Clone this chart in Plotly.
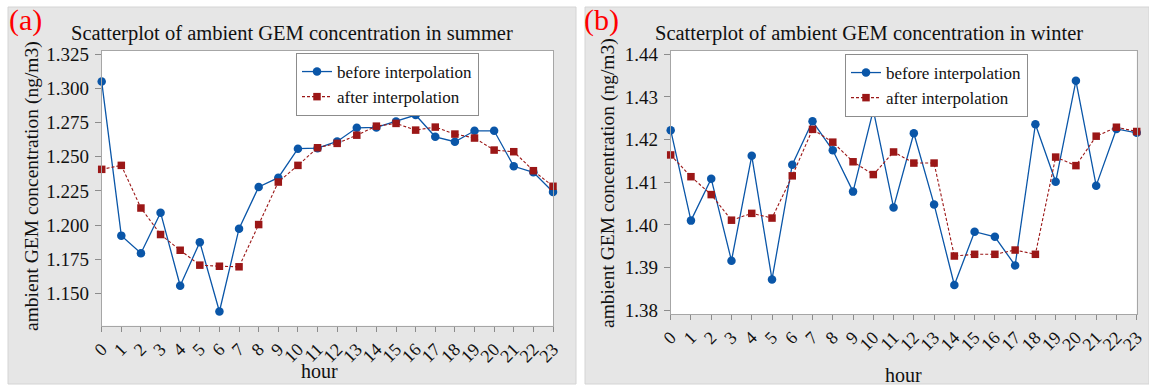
import plotly.graph_objects as go

W, H = 1149, 386

hours = list(range(24))
hour_labels = [str(h) for h in hours]

summer_before = [1.305, 1.1923, 1.1794, 1.2091, 1.1556, 1.1875, 1.1368, 1.1974,
                 1.2279, 1.2347, 1.2559, 1.2563, 1.2612, 1.2712, 1.2715, 1.2758,
                 1.2805, 1.2646, 1.2610, 1.2690, 1.2690, 1.2430, 1.2386, 1.2242]
summer_after = [1.2408, 1.2437, 1.2125, 1.1931, 1.1816, 1.1707, 1.1699, 1.1695,
                1.2004, 1.2315, 1.2437, 1.2566, 1.2598, 1.2658, 1.2724, 1.2744,
                1.2695, 1.2717, 1.2666, 1.2637, 1.2549, 1.2537, 1.2398, 1.2284]

winter_before = [1.4222, 1.4010, 1.4108, 1.3916, 1.4162, 1.3872, 1.4141, 1.4243,
                 1.4175, 1.4078, 1.4269, 1.4041, 1.4215, 1.4048, 1.3859, 1.3984,
                 1.3972, 1.3905, 1.4236, 1.4101, 1.4338, 1.4092, 1.4225, 1.4216]
winter_after = [1.4164, 1.4113, 1.4071, 1.4011, 1.4027, 1.4016, 1.4115, 1.4224,
                1.4194, 1.4148, 1.4118, 1.4171, 1.4145, 1.4145, 1.3927, 1.3931,
                1.3931, 1.3941, 1.3931, 1.4159, 1.4139, 1.4208, 1.4229, 1.4219]

summer_ticks = [1.150, 1.175, 1.200, 1.225, 1.250, 1.275, 1.300, 1.325]
winter_ticks = [1.38, 1.39, 1.40, 1.41, 1.42, 1.43, 1.44]

series_names = ["before interpolation", "after interpolation"]
panel_titles = ["Scatterplot of ambient GEM concentration in summer",
                "Scatterplot of ambient GEM concentration in winter"]
panel_tags = ["(a)", "(b)"]
y_title = "ambient GEM concentration (ng/m3)"
x_title = "hour"

BLUE = "#0a56a8"
RED = "#9b1717"
FONT = "Liberation Serif, Times New Roman, serif"
PANEL_BG = "#e6e6e6"


def px(x):
    return x / W


def py(y):
    return 1 - y / H


fig = go.Figure()

panels = [
    dict(before=summer_before, after=summer_after, xa="x", ya="y", legend="legend"),
    dict(before=winter_before, after=winter_after, xa="x2", ya="y2", legend="legend2"),
]

for p in panels:
    fig.add_trace(go.Scatter(
        x=hours, y=p["before"], name=series_names[0], mode="lines+markers",
        xaxis=p["xa"], yaxis=p["ya"], legend=p["legend"],
        line=dict(color=BLUE, width=1.3),
        marker=dict(symbol="circle", size=8.5, color=BLUE),
        cliponaxis=False,
    ))
    fig.add_trace(go.Scatter(
        x=hours, y=p["after"], name=series_names[1], mode="lines+markers",
        xaxis=p["xa"], yaxis=p["ya"], legend=p["legend"],
        line=dict(color=RED, width=1.1, dash="3px,2px"),
        marker=dict(symbol="square", size=7.5, color=RED),
        cliponaxis=False,
    ))

common_x = dict(
    range=[0, 23], tickmode="array", tickvals=hours, ticktext=hour_labels,
    tickangle=-45, ticks="outside", ticklen=5, tickcolor="#8c8c8c",
    showline=True, linecolor="#a6a6a6", linewidth=1, mirror=True,
    showgrid=False, zeroline=False, automargin=False,
    tickfont=dict(family=FONT, size=18, color="#111111"),
)
common_y = dict(
    ticks="outside", ticklen=6, tickcolor="#8c8c8c",
    showline=True, linecolor="#a6a6a6", linewidth=1, mirror=True,
    showgrid=False, zeroline=False, ticklabelstandoff=2, automargin=False,
    tickfont=dict(family=FONT, size=19, color="#111111"),
)

legend_style = dict(
    xanchor="left", yanchor="top", bgcolor="white",
    bordercolor="#8c8c8c", borderwidth=1,
    font=dict(family=FONT, size=17, color="#111111"),
    tracegroupgap=0, itemwidth=30,
)

plot_boxes = [(101.7, 553, 50.7, 325.7), (670.7, 1136.7, 50.7, 314)]

fig.update_layout(
    width=W, height=H,
    margin=dict(l=0, r=0, t=0, b=0, autoexpand=False),
    paper_bgcolor="white", plot_bgcolor="rgba(0,0,0,0)",
    showlegend=True,
    xaxis=dict(domain=[px(plot_boxes[0][0]), px(plot_boxes[0][1])], anchor="y", **common_x),
    yaxis=dict(domain=[py(plot_boxes[0][3]), py(plot_boxes[0][2])], anchor="x",
               range=[1.1264, 1.3276], tickvals=summer_ticks,
               tickformat=".3f", **common_y),
    xaxis2=dict(domain=[px(plot_boxes[1][0]), px(plot_boxes[1][1])], anchor="y2", **common_x),
    yaxis2=dict(domain=[py(plot_boxes[1][3]), py(plot_boxes[1][2])], anchor="x2",
                range=[1.3791, 1.44085], tickvals=winter_ticks,
                tickformat=".2f", **common_y),
    legend=dict(x=px(296), y=py(53), **legend_style),
    legend2=dict(x=px(845), y=py(54), **legend_style),
)

# grey panel backgrounds, then white plotting areas on top of them
for x0, x1 in [(8, 576), (585, 1149)]:
    fig.add_shape(type="rect", xref="paper", yref="paper",
                  x0=px(x0), x1=px(x1), y0=py(384), y1=py(7),
                  fillcolor=PANEL_BG, line=dict(color="#d4d4d4", width=1),
                  layer="below")
for x0, x1, y0, y1 in plot_boxes:
    fig.add_shape(type="rect", xref="paper", yref="paper",
                  x0=px(x0), x1=px(x1), y0=py(y1), y1=py(y0),
                  fillcolor="white", line=dict(width=0), layer="below")

annotations = []


def label(text, x, y, size, color="#111111", angle=0):
    annotations.append(dict(text=text, x=px(x), y=py(y), xref="paper", yref="paper",
                            xanchor="center", yanchor="middle", textangle=angle,
                            showarrow=False, font=dict(family=FONT, size=size, color=color)))


for tag, tx in zip(panel_tags, [25, 601]):
    label(tag, tx, 20, 30, color="#ff0000")
for title, tx in zip(panel_titles, [292, 869]):
    label(title, tx, 34, 20.5)
for tx, ty in [(32, 186), (608, 183)]:
    label(y_title, tx, ty, 19.5, angle=-90)
for tx, ty in [(319, 371), (903, 375)]:
    label(x_title, tx, ty, 20)

fig.update_layout(annotations=annotations)

fig.write_html("out.html")
